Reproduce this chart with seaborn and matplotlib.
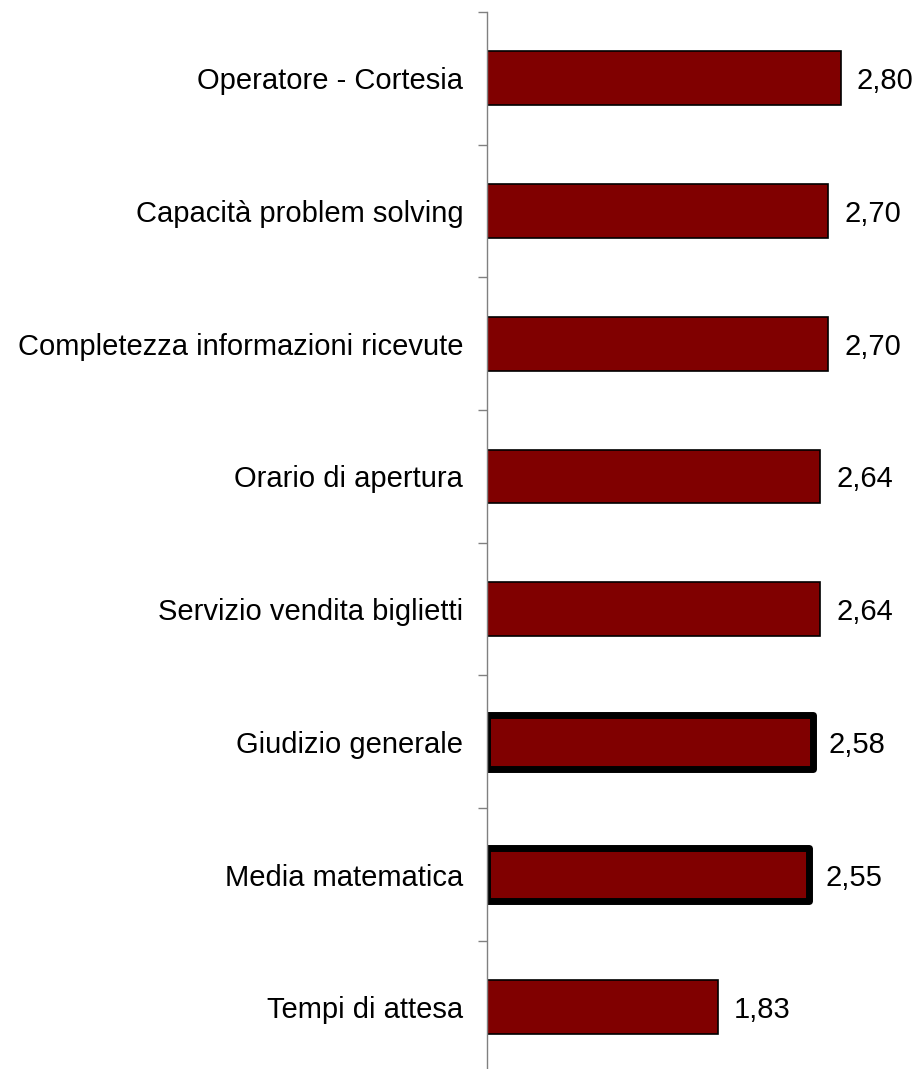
import matplotlib
matplotlib.use("Agg")
import matplotlib.pyplot as plt
import seaborn as sns
import numpy as np
from matplotlib.ticker import FixedLocator

categories = [
    "Operatore - Cortesia",
    "Capacità problem solving",
    "Completezza informazioni ricevute",
    "Orario di apertura",
    "Servizio vendita biglietti",
    "Giudizio generale",
    "Media matematica",
    "Tempi di attesa",
]
values = [2.80, 2.70, 2.70, 2.64, 2.64, 2.58, 2.55, 1.83]
highlighted = ["Giudizio generale", "Media matematica"]

sns.set_theme(style="white")
plt.rcParams["font.family"] = ["Liberation Sans", "DejaVu Sans"]

fig = plt.figure(figsize=(9.17, 10.69), dpi=100)
ax = fig.add_axes([0.531, -0.0043, 0.4546, 0.9931])

sns.barplot(x=values, y=categories, orient="h", color="#800000",
            saturation=1, edgecolor="black", linewidth=1.2, width=0.405, ax=ax)

for patch, cat in zip(ax.patches, categories):
    if cat in highlighted:
        patch.set_linewidth(5)
        patch.set_joinstyle("round")

for i, v in enumerate(values):
    ax.text(v + 0.127, i, f"{v:.2f}".replace(".", ","), va="center_baseline",
            ha="left", fontsize=21, color="black")

ax.set_xlim(0, 3.3)
ax.set_ylim(len(categories) - 0.5, -0.5)
ax.set_xlabel("")
ax.set_ylabel("")
ax.set_xticks([])

for side in ["top", "right", "bottom"]:
    ax.spines[side].set_visible(False)
ax.spines["left"].set_color("#808080")
ax.spines["left"].set_linewidth(1.0)

ax.yaxis.set_minor_locator(FixedLocator(np.arange(-0.5, len(categories), 1.0)))
ax.tick_params(axis="y", which="major", length=0, pad=17, labelsize=21,
               labelcolor="black")
ax.tick_params(axis="y", which="minor", left=True, length=6.5, width=1.0,
               color="#808080")

fig.savefig("out.png", dpi=100)
